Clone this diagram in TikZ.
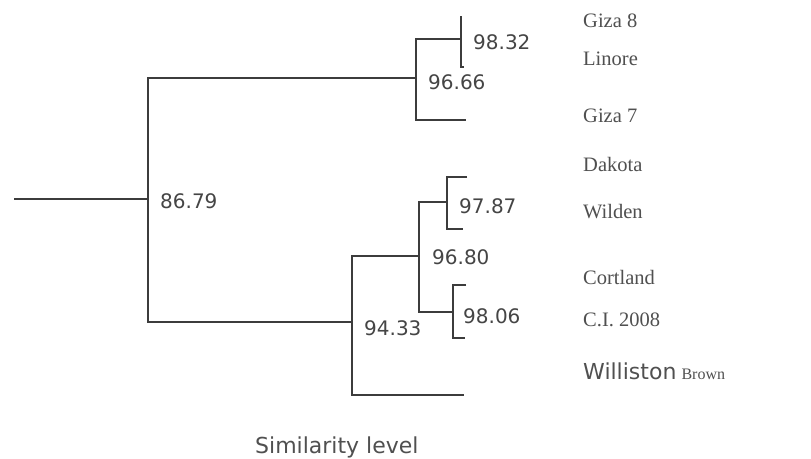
\documentclass[tikz,border=0pt]{standalone}
\usepackage{fontspec}
\setmainfont{Liberation Serif}
\newfontfamily\numfont{DejaVu Sans}
\definecolor{linec}{HTML}{3C3C3C}
\definecolor{textc}{HTML}{505050}
\definecolor{numc}{HTML}{454545}
\begin{document}
\begin{tikzpicture}[x=1pt,y=-1pt,
  branch/.style={draw=linec,line width=1.4pt,line cap=butt,line join=miter},
  num/.style={anchor=west,inner sep=0pt,text=numc,font=\numfont\fontsize{20}{24}\selectfont},
  taxon/.style={anchor=base west,inner sep=0pt,text=textc,font=\fontsize{20.5}{24}\selectfont},
  axislabel/.style={anchor=base west,inner sep=0pt,text=textc,font=\numfont\fontsize{22}{26}\selectfont}]
\useasboundingbox[fill=white] (0,0) rectangle (811,458);
% junction coordinates
\coordinate (r0) at (14,199);
\coordinate (r1) at (148,199);
\coordinate (rt) at (148,78);
\coordinate (rb) at (148,322);
% upper cluster
\coordinate (u0) at (416,78);
\coordinate (ut) at (416,39);
\coordinate (ub) at (416,120);
\coordinate (g7) at (466,120);
\coordinate (v0) at (461,39);
\coordinate (vt) at (461,16);
\coordinate (vb) at (461,67);
\coordinate (vbe) at (464,67);
% lower cluster
\coordinate (l0) at (352,322);
\coordinate (lt) at (352,256);
\coordinate (lb) at (352,395);
\coordinate (wb) at (464,395);
\coordinate (m0) at (419,256);
\coordinate (mt) at (419,202);
\coordinate (mb) at (419,312);
\coordinate (p0) at (447,202);
\coordinate (pt) at (447,177);
\coordinate (pb) at (447,229);
\coordinate (pte) at (467,177);
\coordinate (pbe) at (463,229);
\coordinate (q0) at (453,312);
\coordinate (qt) at (453,285);
\coordinate (qb) at (453,338);
\coordinate (qte) at (466,285);
\coordinate (qbe) at (465,338);
% branches
\draw[branch] (r0) -- (r1);
\draw[branch] (u0) -- (rt) -- (rb) -- (l0);
\draw[branch] (v0) -- (ut) -- (ub) -- (g7);
\draw[branch] (vt) -- (vb) -- (vbe);
\draw[branch] (m0) -- (lt) -- (lb) -- (wb);
\draw[branch] (p0) -- (mt) -- (mb) -- (q0);
\draw[branch] (pte) -- (pt) -- (pb) -- (pbe);
\draw[branch] (qte) -- (qt) -- (qb) -- (qbe);
% similarity values
\node[num] (n9832) at (473,42) {98.32};
\node[num] (n9666) at (428,82) {96.66};
\node[num] (n8679) at (160,201) {86.79};
\node[num] (n9787) at (459,206) {97.87};
\node[num] (n9680) at (432,257) {96.80};
\node[num] (n9433) at (364,328) {94.33};
\node[num] (n9806) at (463,316) {98.06};
% cultivar names
\node[taxon] (giza8) at (583,27) {Giza 8};
\node[taxon] (linore) at (583,65) {Linore};
\node[taxon] (giza7) at (583,122) {Giza 7};
\node[taxon] (dakota) at (583,171) {Dakota};
\node[taxon] (wilden) at (583,218) {Wilden};
\node[taxon] (cortland) at (583,284) {Cortland};
\node[taxon] (ci2008) at (583,326) {C.I. 2008};
\node[taxon] (williston) at (583,379) {{\numfont\fontsize{22}{24}\selectfont Williston} {\fontsize{16}{20}\selectfont Brown}};
% axis label
\node[axislabel] (simlevel) at (255,453) {Similarity level};
\end{tikzpicture}
\end{document}
